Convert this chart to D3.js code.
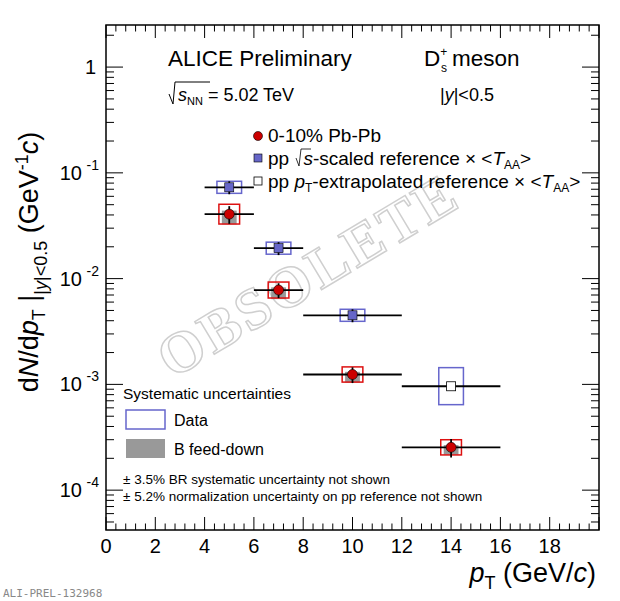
<!DOCTYPE html>
<html><head><meta charset="utf-8">
<script src="https://cdn.jsdelivr.net/npm/d3@7"></script>
<style>body{margin:0;background:#fff}text{font-family:"Liberation Sans",Arial,sans-serif}</style>
</head><body>
<svg id="c" width="620" height="601"></svg>
<script>
// pT bins
var ptCenter = [5, 7, 10, 14]
var ptLow = [4, 6, 8, 12]
var ptHigh = [6, 8, 12, 16]
// 0-10% Pb-Pb
var pbpbVal = [0.0407, 0.0078, 0.00124, 0.000254]
var pbpbStat = [0.19, 0.16, 0.17, 0.2]
var pbpbSys = [0.24, 0.19, 0.18, 0.18]
var pbpbFdUp = [0.08, 0.06, 0.06, 0.05]
var pbpbFdDn = [0.2, 0.18, 0.16, 0.15]
// pp sqrt(s)-scaled reference x <TAA>
var ppPt = [5, 7, 10]
var ppVal = [0.073, 0.0194, 0.0045]
var ppStat = [0.14, 0.14, 0.14]
var ppSys = [0.14, 0.14, 0.14]
// pp pT-extrapolated reference x <TAA>
var extPt = [14]
var extVal = [0.00096]
var extSysUp = [0.5]
var extSysDn = [0.33]

var svg = d3.select('#c')
var L = 106, R = 599, T = 25, B = 530
var x = d3.scaleLinear().domain([0, 20]).range([L, R])
var y = d3.scaleLog().domain([4.2e-5, 2.5]).range([B, T])
var g = svg.append('g')

// watermark
g.append('text').attr('transform', 'translate(318,292) rotate(-31)')
  .attr('text-anchor', 'middle')
  .style('font-family', '"Liberation Serif",serif').attr('font-weight', 'bold')
  .attr('font-size', 58).attr('fill', 'none').attr('stroke', '#cfcfcf').attr('stroke-width', 1.5)
  .attr('letter-spacing', 3).text('OBSOLETE')

// frame + ticks
g.append('rect').attr('x', L).attr('y', T).attr('width', R - L).attr('height', B - T)
  .attr('fill', 'none').attr('stroke', '#000').attr('stroke-width', 1.5)
var tk = g.append('g').attr('stroke', '#000').attr('stroke-width', 1)
d3.range(0, 20.01, 0.4).forEach(function (v) {
  var major = Math.abs(v / 2 - Math.round(v / 2)) < 1e-6
  var len = major ? 13 : 6.5
  tk.append('line').attr('x1', x(v)).attr('x2', x(v)).attr('y1', B).attr('y2', B - len)
  tk.append('line').attr('x1', x(v)).attr('x2', x(v)).attr('y1', T).attr('y2', T + len)
})
for (var e = -5; e <= 0; e++) {
  for (var m = 1; m <= 9; m++) {
    var v = m * Math.pow(10, e)
    if (v < 4.2e-5 || v > 2.5) continue
    var len = m === 1 ? 17 : 8
    tk.append('line').attr('x1', L).attr('x2', L + len).attr('y1', y(v)).attr('y2', y(v))
    tk.append('line').attr('x1', R).attr('x2', R - len).attr('y1', y(v)).attr('y2', y(v))
  }
}
// tick labels
d3.range(0, 19, 2).forEach(function (v) {
  g.append('text').attr('x', x(v)).attr('y', B + 23).attr('text-anchor', 'middle')
    .attr('font-size', 20).text(v)
})
var ylab = g.append('g').attr('font-size', 20).attr('text-anchor', 'end')
ylab.append('text').attr('x', L - 10).attr('y', y(1) + 7).text('1')
;[-1, -2, -3, -4].forEach(function (e) {
  ylab.append('text').attr('x', L - 24).attr('y', y(Math.pow(10, e)) + 7).text('10')
  ylab.append('text').attr('x', L - 7).attr('y', y(Math.pow(10, e)) - 3).attr('font-size', 14).text(e)
})

// axis titles
var xt = g.append('text').attr('x', 596).attr('y', 582).attr('text-anchor', 'end').attr('font-size', 27)
xt.append('tspan').attr('font-style', 'italic').text('p')
xt.append('tspan').attr('font-size', 18).attr('dy', 7).text('T')
xt.append('tspan').attr('dy', -7).text(' (GeV/')
xt.append('tspan').attr('font-style', 'italic').text('c')
xt.append('tspan').text(')')

var yt = g.append('text').attr('transform', 'translate(38,262) rotate(-90)')
  .attr('text-anchor', 'middle').attr('font-size', 27)
yt.append('tspan').text('d')
yt.append('tspan').attr('font-style', 'italic').text('N')
yt.append('tspan').text('/d')
yt.append('tspan').attr('font-style', 'italic').text('p')
yt.append('tspan').attr('font-size', 18).attr('dy', 7).text('T')
yt.append('tspan').attr('dy', -7).text(' |')
yt.append('tspan').attr('font-size', 18).attr('dy', 9).text('|')
yt.append('tspan').attr('font-size', 18).attr('font-style', 'italic').text('y')
yt.append('tspan').attr('font-size', 18).text('|<0.5')
yt.append('tspan').attr('dy', -9).text(' (GeV')
yt.append('tspan').attr('font-size', 18).attr('dy', -10).text('-1')
yt.append('tspan').attr('dy', 10).attr('font-style', 'italic').text('c')
yt.append('tspan').text(')')

// header texts
g.append('text').attr('x', 168).attr('y', 66).attr('font-size', 22.5).text('ALICE Preliminary')
var ds = g.append('text').attr('x', 424).attr('y', 66).attr('font-size', 22.5)
ds.append('tspan').text('D')
ds.append('tspan').attr('font-size', 12).attr('dy', -10).text('+')
g.append('text').attr('x', 441).attr('y', 72).attr('font-size', 12).text('s')
g.append('text').attr('x', 452).attr('y', 66).attr('font-size', 22.5).text('meson')
g.append('path').attr('d', 'M169,94 L173,104 L175,82 L210,82').attr('fill', 'none').attr('stroke', '#000').attr('stroke-width', 1)
var sq = g.append('text').attr('x', 178).attr('y', 101).attr('font-size', 18)
sq.append('tspan').attr('font-style', 'italic').text('s')
sq.append('tspan').attr('font-size', 11).attr('dy', 4).text('NN')
sq.append('tspan').attr('dy', -4).text(' = 5.02 TeV')
var yy = g.append('text').attr('x', 440).attr('y', 101).attr('font-size', 18)
yy.append('tspan').text('|')
yy.append('tspan').attr('font-style', 'italic').text('y')
yy.append('tspan').text('|<0.5')

// legend
var lg = g.append('g').attr('font-size', 19)
lg.append('circle').attr('cx', 258).attr('cy', 136).attr('r', 4.5).attr('fill', '#c00').attr('stroke', '#000').attr('stroke-width', 0.6)
lg.append('text').attr('x', 268).attr('y', 142).text('0-10% Pb-Pb')
lg.append('rect').attr('x', 254).attr('y', 154).attr('width', 8).attr('height', 8).attr('fill', '#6666c8').attr('stroke', '#000').attr('stroke-width', 0.6)
var l2 = lg.append('text').attr('x', 268).attr('y', 165)
l2.append('tspan').text('pp ')
l2.append('tspan').attr('dx', 9).attr('font-style', 'italic').text('s')
l2.append('tspan').text('-scaled reference × <')
l2.append('tspan').attr('font-style', 'italic').text('T')
l2.append('tspan').attr('font-size', 12).attr('dy', 4).text('AA')
l2.append('tspan').attr('dy', -4).text('>')
lg.append('path').attr('d', 'M296,158 L299,166 L301,149 L311,149').attr('fill', 'none').attr('stroke', '#000').attr('stroke-width', 0.8)
lg.append('rect').attr('x', 254).attr('y', 177).attr('width', 8).attr('height', 8).attr('fill', '#fff').attr('stroke', '#000').attr('stroke-width', 0.8)
var l3 = lg.append('text').attr('x', 268).attr('y', 188)
l3.append('tspan').text('pp ')
l3.append('tspan').attr('font-style', 'italic').text('p')
l3.append('tspan').attr('font-size', 12).attr('dy', 4).text('T')
l3.append('tspan').attr('dy', -4).text('-extrapolated reference × <')
l3.append('tspan').attr('font-style', 'italic').text('T')
l3.append('tspan').attr('font-size', 12).attr('dy', 4).text('AA')
l3.append('tspan').attr('dy', -4).text('>')

lg.append('text').attr('x', 123).attr('y', 399).attr('font-size', 15.5).text('Systematic uncertainties')
lg.append('rect').attr('x', 126).attr('y', 410).attr('width', 39).attr('height', 19).attr('fill', 'none').attr('stroke', '#6666cc').attr('stroke-width', 1.5)
lg.append('text').attr('x', 174).attr('y', 426).attr('font-size', 16).text('Data')
lg.append('rect').attr('x', 126).attr('y', 439).attr('width', 39).attr('height', 19).attr('fill', '#999')
lg.append('text').attr('x', 174).attr('y', 455).attr('font-size', 16).text('B feed-down')
lg.append('text').attr('x', 123).attr('y', 484).attr('font-size', 13.5).text('± 3.5% BR systematic uncertainty not shown')
lg.append('text').attr('x', 123).attr('y', 501).attr('font-size', 13.5).text('± 5.2% normalization uncertainty on pp reference not shown')

var pts = g.append('g')
// pp scaled
ppPt.forEach(function (p, i) {
  var v = ppVal[i]
  pts.append('rect').attr('x', x(p - 0.5)).attr('width', x(p + 0.5) - x(p - 0.5))
    .attr('y', y(v * (1 + ppSys[i]))).attr('height', y(v / (1 + ppSys[i])) - y(v * (1 + ppSys[i])))
    .attr('fill', 'none').attr('stroke', '#6666cc').attr('stroke-width', 1.5)
})
// extrapolated
extPt.forEach(function (p, i) {
  var v = extVal[i]
  pts.append('rect').attr('x', x(p - 0.5)).attr('width', x(p + 0.5) - x(p - 0.5))
    .attr('y', y(v * (1 + extSysUp[i]))).attr('height', y(v * (1 - extSysDn[i])) - y(v * (1 + extSysUp[i])))
    .attr('fill', 'none').attr('stroke', '#6666cc').attr('stroke-width', 1.5)
})
// Pb-Pb feed-down + sys
ptCenter.forEach(function (p, i) {
  var v = pbpbVal[i]
  pts.append('rect').attr('x', x(p - 0.3)).attr('width', x(p + 0.3) - x(p - 0.3))
    .attr('y', y(v * (1 + pbpbFdUp[i]))).attr('height', y(v * (1 - pbpbFdDn[i])) - y(v * (1 + pbpbFdUp[i])))
    .attr('fill', '#999')
  pts.append('rect').attr('x', x(p - 0.42)).attr('width', x(p + 0.42) - x(p - 0.42))
    .attr('y', y(v * (1 + pbpbSys[i]))).attr('height', y(v / (1 + pbpbSys[i])) - y(v * (1 + pbpbSys[i])))
    .attr('fill', 'none').attr('stroke', '#dd1111').attr('stroke-width', 1.5)
})
function errBar(xl, xh, xc, v, s) {
  pts.append('line').attr('x1', x(xl)).attr('x2', x(xh)).attr('y1', y(v)).attr('y2', y(v)).attr('stroke', '#000').attr('stroke-width', 1.8)
  pts.append('line').attr('x1', x(xc)).attr('x2', x(xc)).attr('y1', y(v * (1 + s))).attr('y2', y(v * (1 - s))).attr('stroke', '#000').attr('stroke-width', 1.8)
}
ppPt.forEach(function (p, i) {
  var lo = ptLow[ptCenter.indexOf(p)], hi = ptHigh[ptCenter.indexOf(p)]
  errBar(lo, hi, p, ppVal[i], ppStat[i])
  pts.append('rect').attr('x', x(p) - 4.5).attr('y', y(ppVal[i]) - 4.5).attr('width', 9).attr('height', 9)
    .attr('fill', '#6666c8').attr('stroke', '#000').attr('stroke-width', 0.6)
})
extPt.forEach(function (p, i) {
  errBar(12, 16, p, extVal[i], 0)
  pts.append('rect').attr('x', x(p) - 4.5).attr('y', y(extVal[i]) - 4.5).attr('width', 9).attr('height', 9)
    .attr('fill', '#fff').attr('stroke', '#000').attr('stroke-width', 0.8)
})
ptCenter.forEach(function (p, i) {
  errBar(ptLow[i], ptHigh[i], p, pbpbVal[i], pbpbStat[i])
  pts.append('circle').attr('cx', x(p)).attr('cy', y(pbpbVal[i])).attr('r', 5)
    .attr('fill', '#c00').attr('stroke', '#000').attr('stroke-width', 0.6)
})

g.append('text').attr('x', 3).attr('y', 597).attr('font-size', 11).attr('fill', '#888')
  .style('font-family', '"DejaVu Sans Mono",monospace').text('ALI-PREL-132968')
</script>
</body></html>
